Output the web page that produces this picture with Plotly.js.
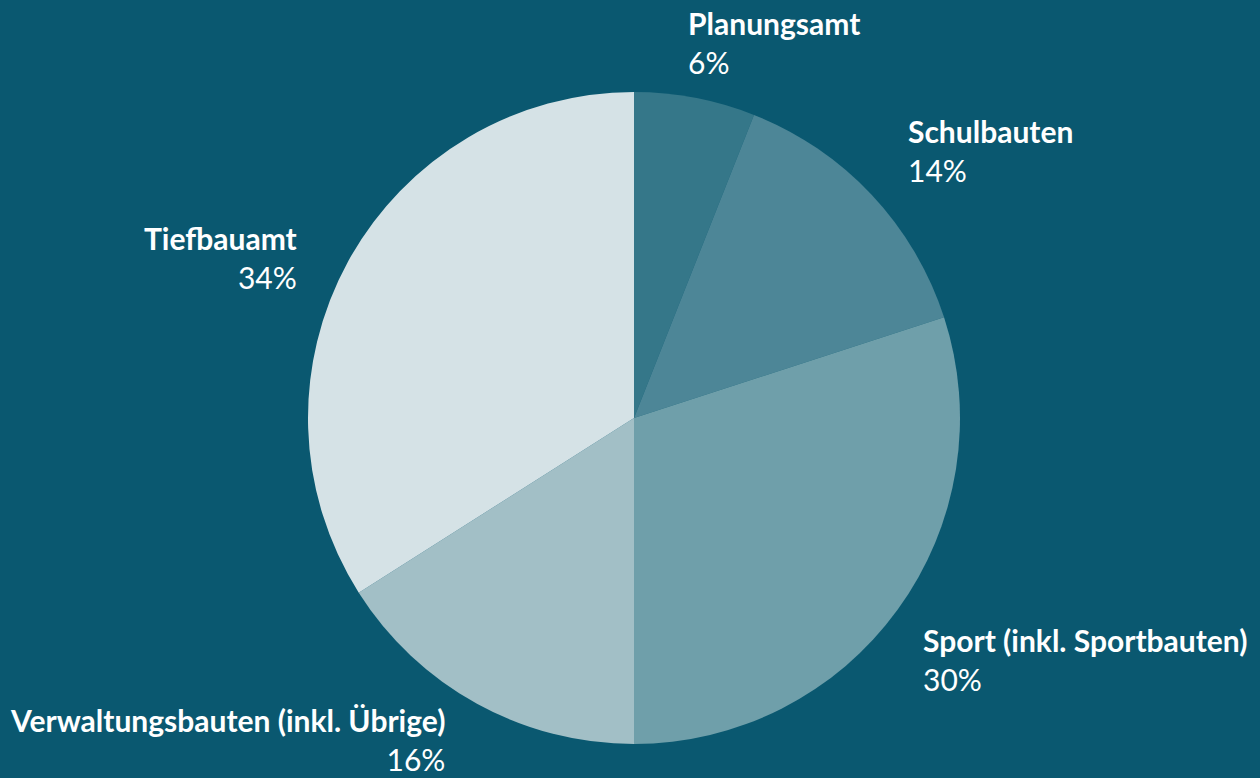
<!DOCTYPE html>
<html>
<head>
<meta charset="utf-8">
<script src="https://cdn.plot.ly/plotly-3.0.1.min.js"></script>
<style>
  html, body { margin: 0; padding: 0; background: #0a5870; }
  #chart { width: 1260px; height: 778px; }
</style>
</head>
<body>
<div id="chart"></div>
<script>
// Anteile nach Bereich (%)
const labels = ['Planungsamt', 'Schulbauten', 'Sport (inkl. Sportbauten)', 'Verwaltungsbauten (inkl. Übrige)', 'Tiefbauamt'];
const shares = [6, 14, 30, 16, 34];
const colors = ['#357789', '#4d8697', '#6f9faa', '#a2bfc6', '#d5e2e6'];

// label boxes (pixel positions of the text blocks)
const W = 1260, H = 778;
const labelPos = [
  { x: 686, y: 3, anchor: 'left' },
  { x: 906, y: 111, anchor: 'left' },
  { x: 921, y: 620, anchor: 'left' },
  { x: 447, y: 700, anchor: 'right' },
  { x: 299, y: 218, anchor: 'right' }
];

const total = shares.reduce((a, b) => a + b, 0);

const annotations = labels.map((lab, i) => ({
  xref: 'paper', yref: 'paper',
  x: labelPos[i].x / W,
  y: 1 - labelPos[i].y / H,
  xanchor: labelPos[i].anchor,
  yanchor: 'top',
  align: labelPos[i].anchor,
  showarrow: false,
  text: '<b>' + lab + '</b><br>' + Math.round(shares[i] / total * 100) + '%',
  font: { family: 'Lato, "Open Sans", sans-serif', size: 30, color: '#ffffff' }
}));

Plotly.newPlot('chart', [{
  type: 'pie',
  labels: labels,
  values: shares,
  sort: false,
  direction: 'clockwise',
  rotation: 0,
  marker: { colors: colors, line: { width: 0 } },
  textinfo: 'none',
  hoverinfo: 'label+percent',
  domain: { x: [308 / W, 960 / W], y: [34 / H, 686 / H] }
}], {
  width: W,
  height: H,
  margin: { l: 0, r: 0, t: 0, b: 0 },
  showlegend: false,
  paper_bgcolor: '#0a5870',
  plot_bgcolor: '#0a5870',
  annotations: annotations
}, { displayModeBar: false });
</script>
</body>
</html>
